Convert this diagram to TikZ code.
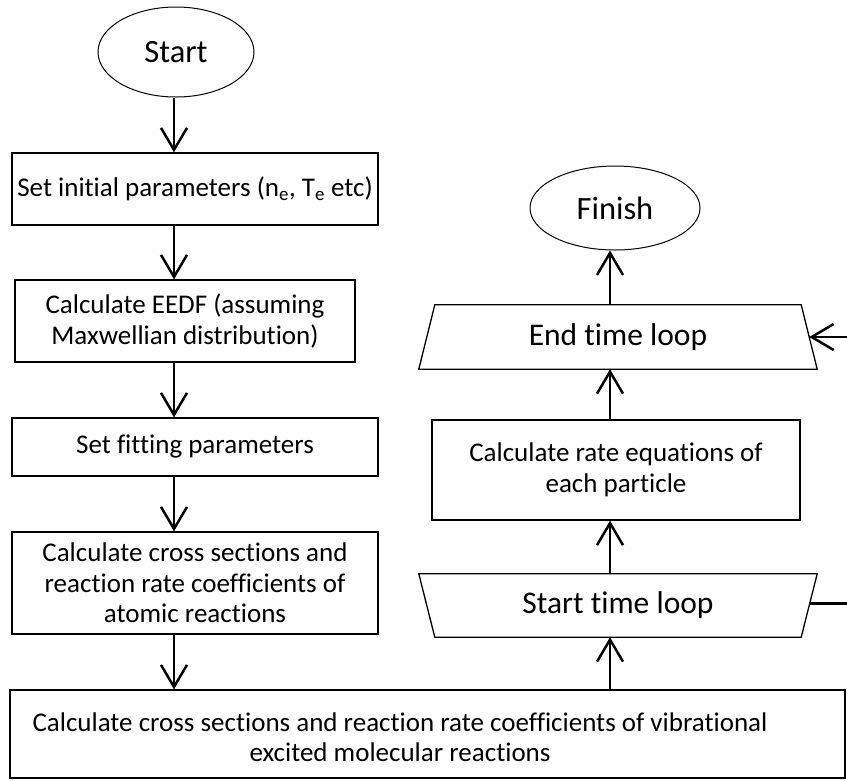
\documentclass[tikz,border=0pt]{standalone}
\usepackage{fontspec}
\setmainfont[Ligatures=NoCommon]{Carlito}
\usetikzlibrary{arrows.meta,shapes.geometric,calc}

\begin{document}
\begin{tikzpicture}[x=1pt,y=-1pt,
  box/.style={draw, line width=1.3pt, rectangle, inner sep=0pt, align=center,
    font=\fontsize{27}{30.5}\selectfont},
  oval/.style={draw, line width=1pt, ellipse, inner sep=0pt,
    font=\fontsize{32.5}{36}\selectfont},
  loopbox/.style={inner sep=0pt, font=\fontsize{31.5}{36}\selectfont},
  trapline/.style={line width=1.3pt, line join=miter},
  flow/.style={line width=2.5pt,
    -{Straight Barb[length=22pt,width=26pt,line width=2.5pt]}},
  plain/.style={line width=2.5pt}
]
\useasboundingbox (0,0) rectangle (847,780);

% arrow columns
\coordinate (colL) at (174,0);
\coordinate (colR) at (610,0);
\coordinate (edge) at (847,0);

% left column
\node[oval, minimum width=156, minimum height=90] (start) at (176,52) {Start};
\node[box, minimum width=366, minimum height=72] (init) at (195,189)
  {Set initial parameters (n\textsubscript{e}, T\textsubscript{e} etc)};
\node[box, minimum width=340, minimum height=82] (eedf) at (185,321)
  {Calculate EEDF (assuming\\Maxwellian distribution)};
\node[box, minimum width=366, minimum height=58] (fit) at (195,447)
  {Set fitting parameters};
\node[box, minimum width=366, minimum height=102] (atomic) at (195,583)
  {Calculate cross sections and\\reaction rate coefficients of\\atomic reactions};

% bottom box
\node[box, minimum width=835, minimum height=88] (vib) at (427.5,734) {};
\node[align=center, inner sep=0pt, font=\fontsize{27}{30.5}\selectfont] (vibtext) at (400,737)
  {Calculate cross sections and reaction rate coefficients of vibrational\\excited molecular reactions};

% right column
\node[oval, minimum width=170, minimum height=84] (finish) at (615,208) {Finish};
\node[loopbox, minimum width=398, minimum height=64] (endloop) at (618,337) {End time loop};
\node[box, minimum width=368, minimum height=100] (rate) at (616,470)
  {Calculate rate equations of\\each particle};
\node[loopbox, minimum width=398, minimum height=63] (startloop) at (618,605.5) {Start time loop};

% trapezoid outlines of the loop markers
\draw[trapline] ($(endloop.north west)+(16,0)$) -- ($(endloop.north east)+(-16,0)$)
  -- (endloop.south east) -- (endloop.south west) -- cycle;
\draw[trapline] (startloop.north west) -- (startloop.north east)
  -- ($(startloop.south east)+(-16,0)$) -- ($(startloop.south west)+(16,0)$) -- cycle;

% left column flow
\draw[flow] (start.south -| colL) -- (init.north -| colL);
\draw[flow] (init.south -| colL) -- (eedf.north -| colL);
\draw[flow] (eedf.south -| colL) -- (fit.north -| colL);
\draw[flow] (fit.south -| colL) -- (atomic.north -| colL);
\draw[flow] (atomic.south -| colL) -- (vib.north -| colL);

% right column flow
\draw[flow] (vib.north -| colR) -- (startloop.south -| colR);
\draw[flow] (startloop.north -| colR) -- (rate.south -| colR);
\draw[flow] (rate.north -| colR) -- (endloop.south -| colR);
\draw[flow] (endloop.north -| colR) -- (finish.south -| colR);

% loop-back connectors at the right edge
\coordinate (endR) at ($(endloop.east)+(-8,0)$);
\coordinate (startR) at ($(startloop.east)+(-8,-2)$);
\draw[flow] (endR -| edge) -- (endR);
\draw[plain] (startR) -- (startR -| edge);
\end{tikzpicture}
\end{document}
